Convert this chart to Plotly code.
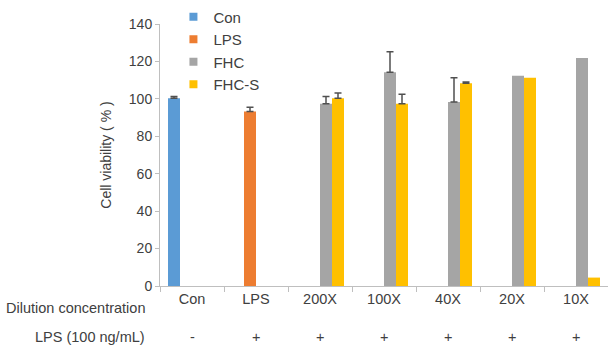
import plotly.graph_objects as go

categories = ["Con", "LPS", "200X", "100X", "40X", "20X", "10X"]
lps_row = ["-", "+", "+", "+", "+", "+", "+"]

# upper error values; lists stop after the last bar that has an error bar
con_vals = [100.3, None, None, None, None, None, None]
con_err = [1.0]
lps_vals = [None, 93.2, None, None, None, None, None]
lps_err = [None, 2.3]
fhc_vals = [None, None, 97.4, 114.2, 98.3, 112.4, 121.8]
fhc_err = [None, None, 3.8, 11.0, 13.0]
fhcs_vals = [None, None, 100.3, 97.4, 108.4, 111.3, 4.5]
fhcs_err = [None, None, 2.8, 5.0, 0.6]

series = [
    ("Con", con_vals, con_err, "#5B9BD5"),
    ("LPS", lps_vals, lps_err, "#ED7D31"),
    ("FHC", fhc_vals, fhc_err, "#A5A5A5"),
    ("FHC-S", fhcs_vals, fhcs_err, "#FFC000"),
]

FONT = "Liberation Sans, Arial, sans-serif"
TXT = "#404040"

fig = go.Figure()
for name, vals, err, col in series:
    fig.add_trace(go.Bar(
        name=name, x=categories, y=vals, showlegend=False,
        marker=dict(color=col, line=dict(width=0)),
        error_y=dict(type="data", array=err, symmetric=False,
                     color="#505050", thickness=1.5, width=3.5, visible=True),
    ))
# legend entries with small square swatches
for name, vals, err, col in series:
    fig.add_trace(go.Scatter(
        name=name, x=[None], y=[None], mode="markers",
        marker=dict(symbol="square", size=8, color=col), showlegend=True,
    ))

fig.update_layout(
    width=608, height=349,
    margin=dict(l=160, r=0, t=24, b=63),
    barmode="group", bargap=0.25, bargroupgap=0,
    plot_bgcolor="white", paper_bgcolor="white",
    font=dict(family=FONT, size=13, color=TXT),
    legend=dict(x=0.03, y=1.09, xanchor="left", yanchor="top",
                font=dict(size=15, color=TXT), bgcolor="rgba(0,0,0,0)",
                itemwidth=30, tracegroupgap=0),
    xaxis=dict(showline=True, linecolor="#BFBFBF", linewidth=1,
               ticks="outside", tickson="boundaries", ticklen=5, tickcolor="#BFBFBF",
               tickfont=dict(size=14.5, color=TXT), showgrid=False),
    yaxis=dict(range=[0, 140], dtick=20, showline=True, linecolor="#BFBFBF", linewidth=1,
               ticks="outside", ticklen=4, tickcolor="#BFBFBF", showgrid=False,
               zeroline=False, tickfont=dict(size=14, color=TXT),
               title=dict(text="Cell viability ( % )", font=dict(size=14, color=TXT), standoff=13)),
)

fig.add_annotation(text="Dilution concentration", xref="paper", yref="paper",
                   x=-0.028, y=-0.083, xanchor="right", yanchor="middle", showarrow=False,
                   font=dict(size=14.5, color=TXT))
fig.add_annotation(text="LPS (100 ng/mL)", xref="paper", yref="paper",
                   x=-0.028, y=-0.195, xanchor="right", yanchor="middle", showarrow=False,
                   font=dict(size=14.5, color=TXT))
for c, s in zip(categories, lps_row):
    fig.add_annotation(text=s, xref="x", yref="paper", x=c, y=-0.195,
                       xanchor="center", yanchor="middle", showarrow=False,
                       font=dict(size=14.5, color=TXT))

fig.write_html("out.html", config={"displayModeBar": False},
               post_script="document.body.style.margin='0px';")
